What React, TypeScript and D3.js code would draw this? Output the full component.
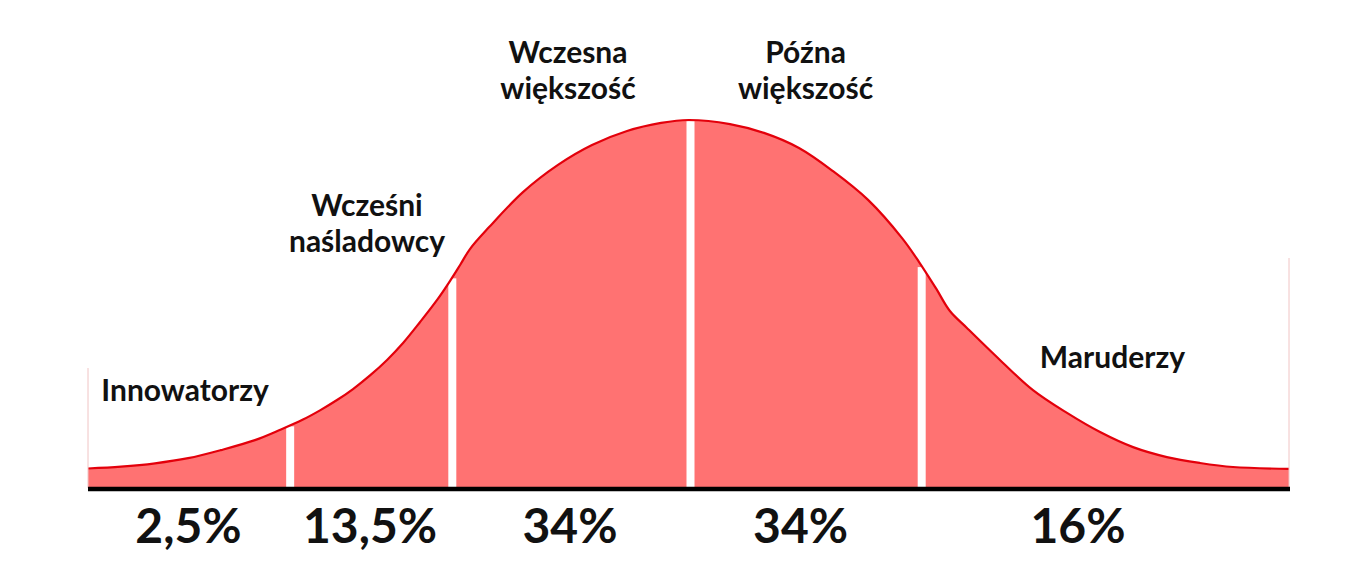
import React from "react";
import * as d3 from "d3";

// Curve: x in standard-deviation units, y = relative height (peak = 100)
const curveX = [-3.0, -2.835, -2.665, -2.5, -2.336, -2.166, -2.036, -1.926, -1.841, -1.756, -1.676, -1.591, -1.506, -1.426, -1.341, -1.256, -1.191, -1.141, -1.091, -0.996, -0.827, -0.652, -0.482, -0.307, -0.137, 0.0, 0.207, 0.377, 0.552, 0.722, 0.897, 1.067, 1.152, 1.236, 1.306, 1.391, 1.556, 1.721, 1.891, 2.056, 2.221, 2.39, 2.555, 2.72, 3.0];
const curveY = [5.3, 5.8, 6.7, 8.1, 10.3, 13.0, 15.9, 18.6, 21.1, 23.9, 26.9, 30.6, 34.8, 39.4, 45.1, 51.1, 56.3, 60.6, 65.0, 70.9, 80.4, 87.8, 93.2, 97.0, 99.2, 100, 98.9, 96.5, 92.4, 86.1, 78.3, 67.9, 61.4, 54.3, 48.1, 43.5, 34.8, 26.6, 20.4, 15.2, 11.1, 8.4, 6.8, 5.7, 5.2];

// Segment boundaries (white separators)
const boundaries = [-1.99, -1.18, 0.01, 1.165];

// Segment names and shares
const groupNames = [["Innowatorzy"], ["Wcześni", "naśladowcy"], ["Wczesna", "większość"], ["Późna", "większość"], ["Maruderzy"]];
const shares = ["2,5%", "13,5%", "34%", "34%", "16%"];

// Faint edge marks at both ends
const edgeX = [-3.0, 3.0];
const edgeTop = [32.6, 62.5];

// layout (not data)
const W = 1366, H = 583;
const nameX = [-2.515, -1.606, -0.602, 0.585, 2.118];
const nameBaseline = [401, 216, 63, 63, 368];
const shareX = [-2.498, -1.591, -0.592, 0.56, 1.946];

export default function App() {
  const x = d3.scaleLinear().domain([-3, 3]).range([88, 1289]);
  const y = d3.scaleLinear().domain([0, 100]).range([488, 120]);
  const pts = curveX.map((v, i) => [v, curveY[i]] as [number, number]);
  const curve = d3.curveCatmullRom.alpha(0.5);
  const area = d3.area<[number, number]>().x(d => x(d[0])).y0(y(0)).y1(d => y(d[1])).curve(curve);
  const line = d3.line<[number, number]>().x(d => x(d[0])).y(d => y(d[1])).curve(curve);
  const interp = d3.scaleLinear().domain(curveX).range(curveY);

  const font = "Lato, 'Open Sans', sans-serif";
  return (
    <svg width={W} height={H} style={{ position: "absolute", left: 0, top: 0, background: "#fff" }}>
      <path d={area(pts) || ""} fill="#ff7272" />
      {boundaries.map((b, i) => (
        <rect key={i} x={x(b) - 4} width={8} y={y(interp(b)) + 1} height={y(0) - y(interp(b))} fill="#fff" />
      ))}
      <path d={line(pts) || ""} fill="none" stroke="#e3000b" strokeWidth={2.2} />
      {edgeX.map((e, i) => (
        <line key={i} x1={x(e)} x2={x(e)} y1={y(edgeTop[i])} y2={y(0)} stroke="#f0c4c4" strokeWidth={1} />
      ))}
      <line x1={x(-3)} x2={x(3) + 1} y1={y(0) + 1} y2={y(0) + 1} stroke="#000" strokeWidth={4.5} />
      {groupNames.map((lines, i) => (
        <text key={i} x={x(nameX[i])} y={nameBaseline[i]} textAnchor="middle" fontFamily={font} fontWeight={700} fontSize={30} fill="#111">
          {lines.map((l, j) => (
            <tspan key={j} x={x(nameX[i])} dy={j === 0 ? 0 : 36}>{l}</tspan>
          ))}
        </text>
      ))}
      {shares.map((s, i) => (
        <text key={i} x={x(shareX[i])} y={543} textAnchor="middle" fontFamily={font} fontWeight={700} fontSize={48} fill="#111">
          {s}
        </text>
      ))}
    </svg>
  );
}
